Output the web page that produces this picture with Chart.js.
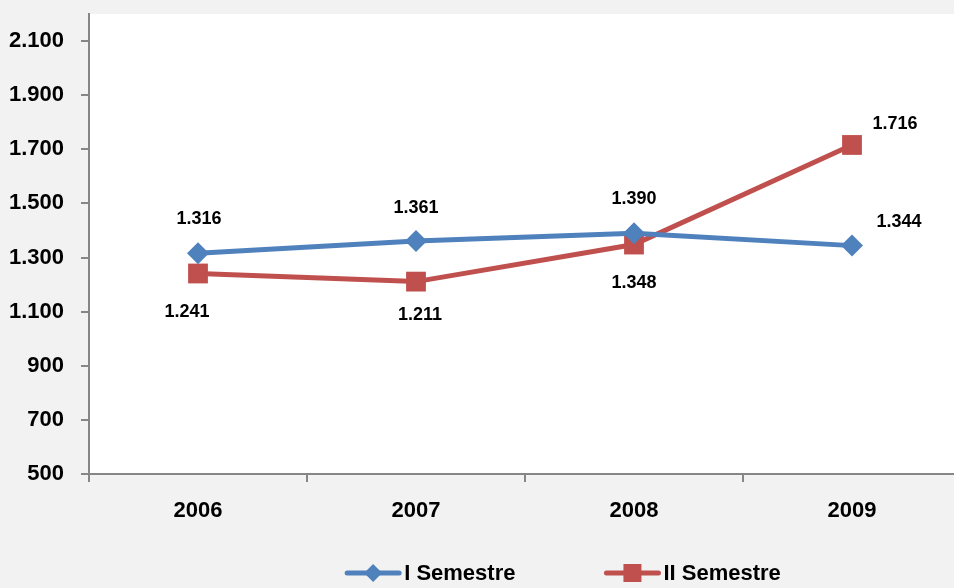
<!DOCTYPE html>
<html>
<head>
<meta charset="utf-8">
<script src="https://cdn.jsdelivr.net/npm/chart.js@4.4.1/dist/chart.umd.min.js"></script>
<style>
  html, body { margin: 0; padding: 0; background: #f2f2f2; overflow: hidden; }
  .chart-box { width: 975px; height: 588px; }
</style>
</head>
<body>
<div class="chart-box"><canvas id="chart"></canvas></div>
<script>
const years = ['2006', '2007', '2008', '2009'];
const semestre1 = [1316, 1361, 1390, 1344];
const semestre2 = [1241, 1211, 1348, 1716];
const yTicks = [500, 700, 900, 1100, 1300, 1500, 1700, 1900, 2100];

const FONT = '"Liberation Sans", Arial, sans-serif';
const BLUE = '#4f81bd';
const RED = '#c0504d';
const AXIS = '#868686';

// it-IT style thousands: 1.316
const fmt = v => v.toLocaleString('it-IT');

const plotBg = {
  id: 'plotBg',
  beforeDraw(chart) {
    const { ctx, chartArea: a } = chart;
    ctx.save();
    ctx.fillStyle = '#ffffff';
    ctx.fillRect(a.left, a.top, a.right - a.left, a.bottom - a.top);
    ctx.restore();
  }
};

// value labels, offsets per point kept in dataset options
const valueLabels = {
  id: 'valueLabels',
  afterDatasetsDraw(chart) {
    const ctx = chart.ctx;
    ctx.save();
    ctx.font = 'bold 18px ' + FONT;
    ctx.fillStyle = '#000';
    ctx.textAlign = 'center';
    ctx.textBaseline = 'middle';
    chart.data.datasets.forEach((ds, i) => {
      chart.getDatasetMeta(i).data.forEach((pt, j) => {
        const off = ds.labelOffsets[j];
        ctx.fillText(fmt(ds.data[j]), pt.x + off[0], pt.y + off[1]);
      });
    });
    ctx.restore();
  }
};

// Excel-like legend: line + marker + text, at the bottom
const lineLegend = {
  id: 'lineLegend',
  afterDraw(chart) {
    const ctx = chart.ctx;
    const y = 573;
    const lineW = 56, gap = 3, spacing = 89;
    ctx.save();
    ctx.font = 'bold 22px ' + FONT;
    ctx.textBaseline = 'middle';
    const items = chart.data.datasets.map(ds => ({ ds, w: lineW + gap + ctx.measureText(ds.label).width }));
    const total = items.reduce((s, it) => s + it.w, 0) + spacing * (items.length - 1);
    let x = 563 - total / 2;
    items.forEach(({ ds, w }) => {
      ctx.strokeStyle = ds.borderColor;
      ctx.lineWidth = 5;
      ctx.lineCap = 'round';
      ctx.beginPath();
      ctx.moveTo(x + 2, y);
      ctx.lineTo(x + lineW - 2, y);
      ctx.stroke();
      ctx.fillStyle = ds.backgroundColor;
      const cx = x + lineW / 2;
      if (ds.pointStyle === 'rectRot') {
        ctx.beginPath();
        ctx.moveTo(cx, y - 9);
        ctx.lineTo(cx + 9, y);
        ctx.lineTo(cx, y + 9);
        ctx.lineTo(cx - 9, y);
        ctx.closePath();
        ctx.fill();
      } else {
        ctx.fillRect(cx - 9, y - 9, 18, 18);
      }
      ctx.fillStyle = '#000';
      ctx.fillText(ds.label, x + lineW + gap, y + 1);
      x += w + spacing;
    });
    ctx.restore();
  }
};

new Chart(document.getElementById('chart'), {
  type: 'line',
  data: {
    labels: years,
    datasets: [{
      label: 'I Semestre',
      data: semestre1,
      borderColor: BLUE,
      backgroundColor: BLUE,
      borderWidth: 5,
      pointStyle: 'rectRot',
      pointRadius: 11,
      pointHoverRadius: 11,
      pointBorderWidth: 0,
      tension: 0,
      labelOffsets: [[1, -34], [0, -33], [0, -34], [47, -24]]
    }, {
      label: 'II Semestre',
      data: semestre2,
      borderColor: RED,
      backgroundColor: RED,
      borderWidth: 5,
      pointStyle: 'rect',
      pointRadius: 14,
      pointHoverRadius: 14,
      pointBorderWidth: 0,
      tension: 0,
      labelOffsets: [[-11, 39], [4, 33], [0, 38], [43, -21]]
    }]
  },
  options: {
    responsive: true,
    maintainAspectRatio: false,
    animation: false,
    events: [],
    layout: { padding: { top: 13, right: 10, left: 0, bottom: 0 } },
    plugins: {
      legend: { display: false },
      tooltip: { enabled: false }
    },
    scales: {
      x: {
        offset: true,
        grid: {
          offset: true,
          drawOnChartArea: false,
          drawTicks: true,
          tickLength: 8,
          color: AXIS,
          lineWidth: 2
        },
        border: { display: true, color: AXIS, width: 2 },
        ticks: {
          color: '#000',
          padding: 16,
          font: { family: FONT, size: 22, weight: 'bold' }
        },
        afterFit(scale) {
          scale.height = 114;
          scale.paddingLeft = 0;
          scale.paddingRight = 0;
        }
      },
      y: {
        min: 500,
        max: 2200,
        afterBuildTicks(scale) { scale.ticks = yTicks.map(v => ({ value: v })); },
        grid: {
          drawOnChartArea: false,
          drawTicks: true,
          tickLength: 8,
          color: AXIS,
          lineWidth: 2
        },
        border: { display: true, color: AXIS, width: 2 },
        ticks: {
          color: '#000',
          padding: 17,
          callback: v => fmt(v),
          font: { family: FONT, size: 22, weight: 'bold' }
        },
        afterFit(scale) {
          scale.width = 89;
          scale.paddingTop = 0;
          scale.paddingBottom = 0;
        }
      }
    }
  },
  plugins: [plotBg, valueLabels, lineLegend]
});
</script>
</body>
</html>
